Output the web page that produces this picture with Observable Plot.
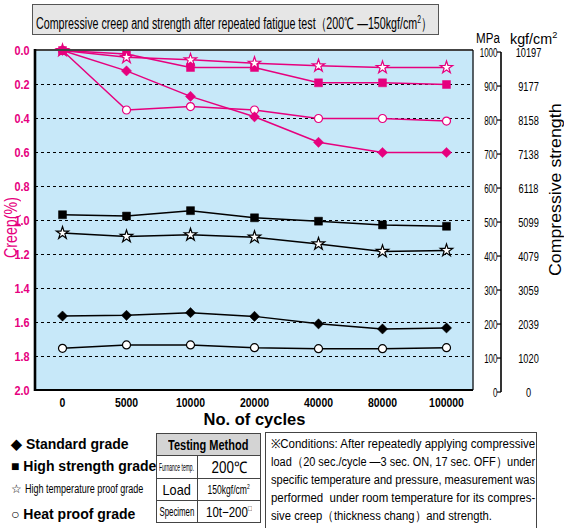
<!DOCTYPE html>
<html>
<head>
<meta charset="utf-8">
<script src="https://cdn.jsdelivr.net/npm/d3@7"></script>
<script src="https://cdn.jsdelivr.net/npm/@observablehq/plot@0.6"></script>
<style>
  body { margin: 0; background: #fff; }
  #wrap { position: relative; width: 564px; height: 528px; overflow: hidden; font-family: "Liberation Sans", Arial, sans-serif; color: #000; }
  .fit { display: inline-block; white-space: nowrap; transform-origin: left center; }
  .fitc { display: inline-block; white-space: nowrap; transform-origin: center center; flex: none; }
  .cc { display: flex; justify-content: center; align-items: center; width: 100%; height: 100%; }
  #chart { position: absolute; left: 0; top: 0; }
  #title { position: absolute; left: 32px; top: 4px; width: 402px; height: 29px; background: #e6e6e6; border: 1.5px solid #555; font-size: 16px; line-height: 29px; padding-left: 3px; white-space: nowrap; overflow: hidden; }
  .unit { position: absolute; top: 30px; font-size: 14px; white-space: nowrap; }
  .leg { position: absolute; left: 11px; white-space: nowrap; font-weight: bold; font-size: 14px; }
  .rot { position: absolute; width: 200px; height: 24px; transform: rotate(-90deg); transform-origin: 50% 50%; }
  #tbl { position: absolute; left: 156px; top: 433px; border-collapse: collapse; table-layout: fixed; width: 104px; }
  #tbl td, #tbl th { border: 1px solid #444; padding: 0; height: 21px; white-space: nowrap; overflow: hidden; }
  #tbl th { background: #d4d4d4; font-weight: bold; font-size: 14px; }
  #cond { position: absolute; left: 265px; top: 432px; width: 264px; height: 96px; border: 1.5px solid #444; padding: 2px 1px 0 5px; font-size: 12.5px; line-height: 18px; }
  #cond div { white-space: nowrap; height: 18px; }
</style>
</head>
<body>
<div id="wrap">
  <div id="chart"></div>
  <div id="title"><span class="fit" data-w="396">Compressive creep and strength after repeated fatigue test（200℃ —150kgf/cm<sup style="font-size:10px">2</sup>）</span></div>
  <div class="unit" style="left:476px;"><span class="fit" data-w="24">MPa</span></div>
  <div class="unit" style="left:510px;"><span class="fit" data-w="47">kgf/cm<sup style="font-size:9px">2</sup></span></div>

  <!-- rotated axis titles: box centred on (cx, cy) = (left+100, top+12) -->
  <div class="rot" style="left:-89px; top:216px; color:#e6007e; font-size:17.5px;"><div class="cc"><span class="fitc" data-w="61">Creep(%)</span></div></div>
  <div class="rot" style="left:455px; top:178px; font-size:16.5px;"><div class="cc"><span class="fitc" data-w="172">Compressive strength</span></div></div>

  <div class="leg" style="top:436px;">◆ Standard grade</div>
  <div class="leg" style="top:458px;">■ High strength grade</div>
  <div class="leg" style="top:482px;font-size:12px;font-weight:normal;">☆ <span class="fit" data-w="118">High temperature proof grade</span></div>
  <div class="leg" style="top:506px;">○ Heat proof grade</div>

  <table id="tbl">
    <colgroup><col style="width:41px"><col style="width:63px"></colgroup>
    <tr><th colspan="2"><div class="cc"><span class="fitc" data-w="80">Testing Method</span></div></th></tr>
    <tr><td style="font-size:11px;"><div class="cc"><span class="fitc" data-w="35">Furnance temp.</span></div></td><td style="font-size:16px;"><div class="cc"><span class="fitc" data-w="36">200℃</span></div></td></tr>
    <tr><td style="font-size:15px;"><div class="cc"><span class="fitc" data-w="28">Load</span></div></td><td style="font-size:12px;"><div class="cc"><span class="fitc" data-w="42">150kgf/cm<sup style="font-size:7px">2</sup></span></div></td></tr>
    <tr><td style="font-size:13px;"><div class="cc"><span class="fitc" data-w="35">Specimen</span></div></td><td style="font-size:14px;"><div class="cc"><span class="fitc" data-w="46">10t−200<sup style="font-size:8px">□</sup></span></div></td></tr>
  </table>

  <div id="cond">
    <div><span class="fit" data-w="264">※Conditions: After repeatedly applying compressive</span></div>
    <div><span class="fit" data-w="264">load（20 sec./cycle —3 sec. ON, 17 sec. OFF）under</span></div>
    <div><span class="fit" data-w="264">specific temperature and pressure, measurement was</span></div>
    <div><span class="fit" data-w="264">performed&nbsp; under room temperature for its compres-</span></div>
    <div><span class="fit" id="lastline">sive creep（thickness chang）and strength.</span></div>
  </div>
</div>

<script>
// ---------- data ----------
const cycles = ["0", "5000", "10000", "20000", "40000", "80000", "100000"];
const grades = ["Standard grade", "High strength grade", "High temperature proof grade", "Heat proof grade"];

// Creep (%)
const creepStandard     = [0, 0.12, 0.27, 0.39, 0.54, 0.60, 0.60];
const creepHighStrength = [0, 0.02, 0.10, 0.10, 0.19, 0.19, 0.20];
const creepHighTemp     = [0, 0.04, 0.055, 0.075, 0.09, 0.10, 0.10];
const creepHeatProof    = [0, 0.35, 0.33, 0.35, 0.40, 0.40, 0.415];

// Compressive strength (MPa)
const strengthStandard     = [225, 227, 235, 224, 202, 187, 190];
const strengthHighStrength = [523, 519, 535, 514, 504, 493, 489];
const strengthHighTemp     = [469, 459, 464, 457, 437, 415, 418];
const strengthHeatProof    = [130, 140, 140, 132, 129, 129, 132];

// axis ticks
const creepTicks = [0, 0.2, 0.4, 0.6, 0.8, 1.0, 1.2, 1.4, 1.6, 1.8, 2.0];
const mpaTicks = [1000, 900, 800, 700, 600, 500, 400, 300, 200, 100, 0];
const kgfTicks = [10197, 9177, 8158, 7138, 6118, 5099, 4079, 3059, 2039, 1020, 0];

// ---------- styling constants ----------
const MAG = "#e6007e";
const BG = "#c7e8f9";
// shared vertical scale: creep % (0..2) <-> strength MPa (right axis sits slightly offset: 0 MPa just below 2.0 %)
const toCreepScale = (mpa) => (1006 - mpa) / 500;

const creepSeries = [creepStandard, creepHighStrength, creepHighTemp, creepHeatProof];
const strengthSeries = [strengthStandard, strengthHighStrength, strengthHighTemp, strengthHeatProof];

const creepRows = [];
creepSeries.forEach((arr, g) => arr.forEach((v, i) => creepRows.push({grade: grades[g], cycle: cycles[i], v})));
const strengthRows = [];
strengthSeries.forEach((arr, g) => arr.forEach((v, i) => strengthRows.push({grade: grades[g], cycle: cycles[i], v: toCreepScale(v), mpa: v})));

const style = {
  [grades[0]]: {symbol: "diamond2", r: 4.6, filled: true},
  [grades[1]]: {symbol: "square", r: 4.5, filled: true},
  [grades[2]]: {symbol: "star", r: 3.9, filled: false},
  [grades[3]]: {symbol: "circle", r: 4.0, filled: false}
};
const drawOrder = [grades[3], grades[0], grades[1], grades[2]];

function seriesMarks(rows, color) {
  const marks = [];
  for (const g of drawOrder) {
    const d = rows.filter(r => r.grade === g);
    marks.push(Plot.line(d, {x: "cycle", y: "v", stroke: color, strokeWidth: 1.5}));
  }
  for (const g of drawOrder) {
    const d = rows.filter(r => r.grade === g);
    const s = style[g];
    // where all four creep series coincide at the start the stacked markers read as a solid blob
    const fill = s.filled ? color : (r) => (color === MAG && r.v === 0 ? color : "white");
    marks.push(Plot.dot(d, {
      x: "cycle", y: "v", symbol: () => s.symbol, r: s.r,
      fill, stroke: color, strokeWidth: s.filled ? 0.5 : 1.2
    }));
  }
  return marks;
}

// frame borders (drawn from the plot dimensions)
function borders(index, scales, values, dim) {
  const l = dim.marginLeft, r = dim.width - dim.marginRight, t = dim.marginTop, b = dim.height - dim.marginBottom;
  const g = d3.create("svg:g");
  g.append("line").attr("x1", l).attr("x2", r).attr("y1", t).attr("y2", t).attr("stroke", "#444").attr("stroke-width", 2);
  g.append("line").attr("x1", r).attr("x2", r).attr("y1", t).attr("y2", b).attr("stroke", "#000").attr("stroke-width", 1.2);
  g.append("line").attr("x1", l).attr("x2", r).attr("y1", b).attr("y2", b).attr("stroke", "#000").attr("stroke-width", 2.2);
  g.append("line").attr("x1", l).attr("x2", l).attr("y1", t - 1).attr("y2", b + 1).attr("stroke", "#000").attr("stroke-width", 2.6);
  return g.node();
}

// right-hand strength axis line + ticks
function strengthAxis(index, scales, values, dim) {
  const {y} = scales;
  const xl = dim.width - dim.marginRight + 28;
  const g = d3.create("svg:g").attr("stroke", "#000");
  g.append("line").attr("x1", xl).attr("x2", xl)
    .attr("y1", y(toCreepScale(1000))).attr("y2", y(toCreepScale(0))).attr("stroke-width", 1.6);
  g.selectAll("line.t").data(mpaTicks).join("line").attr("class", "t")
    .attr("x1", xl - 4).attr("x2", xl)
    .attr("y1", d => y(toCreepScale(d))).attr("y2", d => y(toCreepScale(d))).attr("stroke-width", 1.2);
  return g.node();
}

const FS_LEFT = 13.6, FS_X = 13.4, FS_MPA = 12.5, FS_KGF = 13.2;

const plot = Plot.plot({
  width: 564, height: 440,
  marginLeft: 35, marginRight: 91, marginTop: 50, marginBottom: 50,
  style: {fontFamily: '"Liberation Sans", Arial, sans-serif', background: "transparent", overflow: "visible"},
  x: {type: "point", domain: cycles, padding: 0.39},
  y: {domain: [0, 2], reverse: true},
  marks: [
    Plot.frame({fill: BG, stroke: null}),
    Plot.gridY(creepTicks.filter(t => t > 0 && t < 2), {stroke: "#000", strokeOpacity: 1, strokeWidth: 1, strokeDasharray: "3,3"}),
    ...seriesMarks(creepRows, MAG),
    ...seriesMarks(strengthRows, "#000"),
    borders,
    strengthAxis,
    // left creep axis
    Plot.axisY(creepTicks, {anchor: "left", tickSize: 0, tickPadding: 6, tickFormat: d3.format(".1f"),
      fill: MAG, fontWeight: "bold", fontSize: FS_LEFT, label: null}),
    // bottom axis
    Plot.axisX(cycles, {anchor: "bottom", tickSize: 0, tickPadding: 7, fontWeight: "bold", fontSize: FS_X, label: null}),
    Plot.text(["No. of cycles"], {frameAnchor: "bottom", dy: 34, fontWeight: "bold", fontSize: 16.5, text: d => d}),
    // right axis labels
    Plot.text(mpaTicks, {y: d => toCreepScale(d), text: d => String(d), frameAnchor: "right", dx: 24, textAnchor: "end", fontSize: FS_MPA}),
    Plot.text(kgfTicks, {y: (d, i) => toCreepScale(mpaTicks[i]), text: d => String(d), frameAnchor: "right", dx: 55, textAnchor: "middle", fontSize: FS_KGF})
  ]
});
document.getElementById("chart").appendChild(plot);

// condense tick label glyphs horizontally (narrow typeface look)
function condense(svg, fs, s) {
  svg.querySelectorAll(`[font-size="${fs}"] text, text[font-size="${fs}"]`).forEach(t => {
    const tr = t.getAttribute("transform");
    if (tr) t.setAttribute("transform", tr + ` scale(${s},1)`);
    else {
      const x = t.getAttribute("x") || 0, y = t.getAttribute("y") || 0;
      t.removeAttribute("x"); t.removeAttribute("y");
      t.setAttribute("transform", `translate(${x},${y}) scale(${s},1)`);
    }
  });
}
condense(plot, FS_LEFT, 0.8);
condense(plot, FS_X, 0.78);
condense(plot, FS_MPA, 0.64);
condense(plot, FS_KGF, 0.7);

// fit HTML texts to their widths in the reference (offsetWidth ignores transforms)
const scales = [];
document.querySelectorAll("[data-w]").forEach(el => {
  const w = +el.dataset.w;
  const s = w / el.offsetWidth;
  if (el.closest("#cond")) scales.push(s);
  el.style.transform = `scaleX(${s})`;
});
const avg = scales.reduce((a, b) => a + b, 0) / scales.length;
document.getElementById("lastline").style.transform = `scaleX(${avg})`;
</script>
</body>
</html>
